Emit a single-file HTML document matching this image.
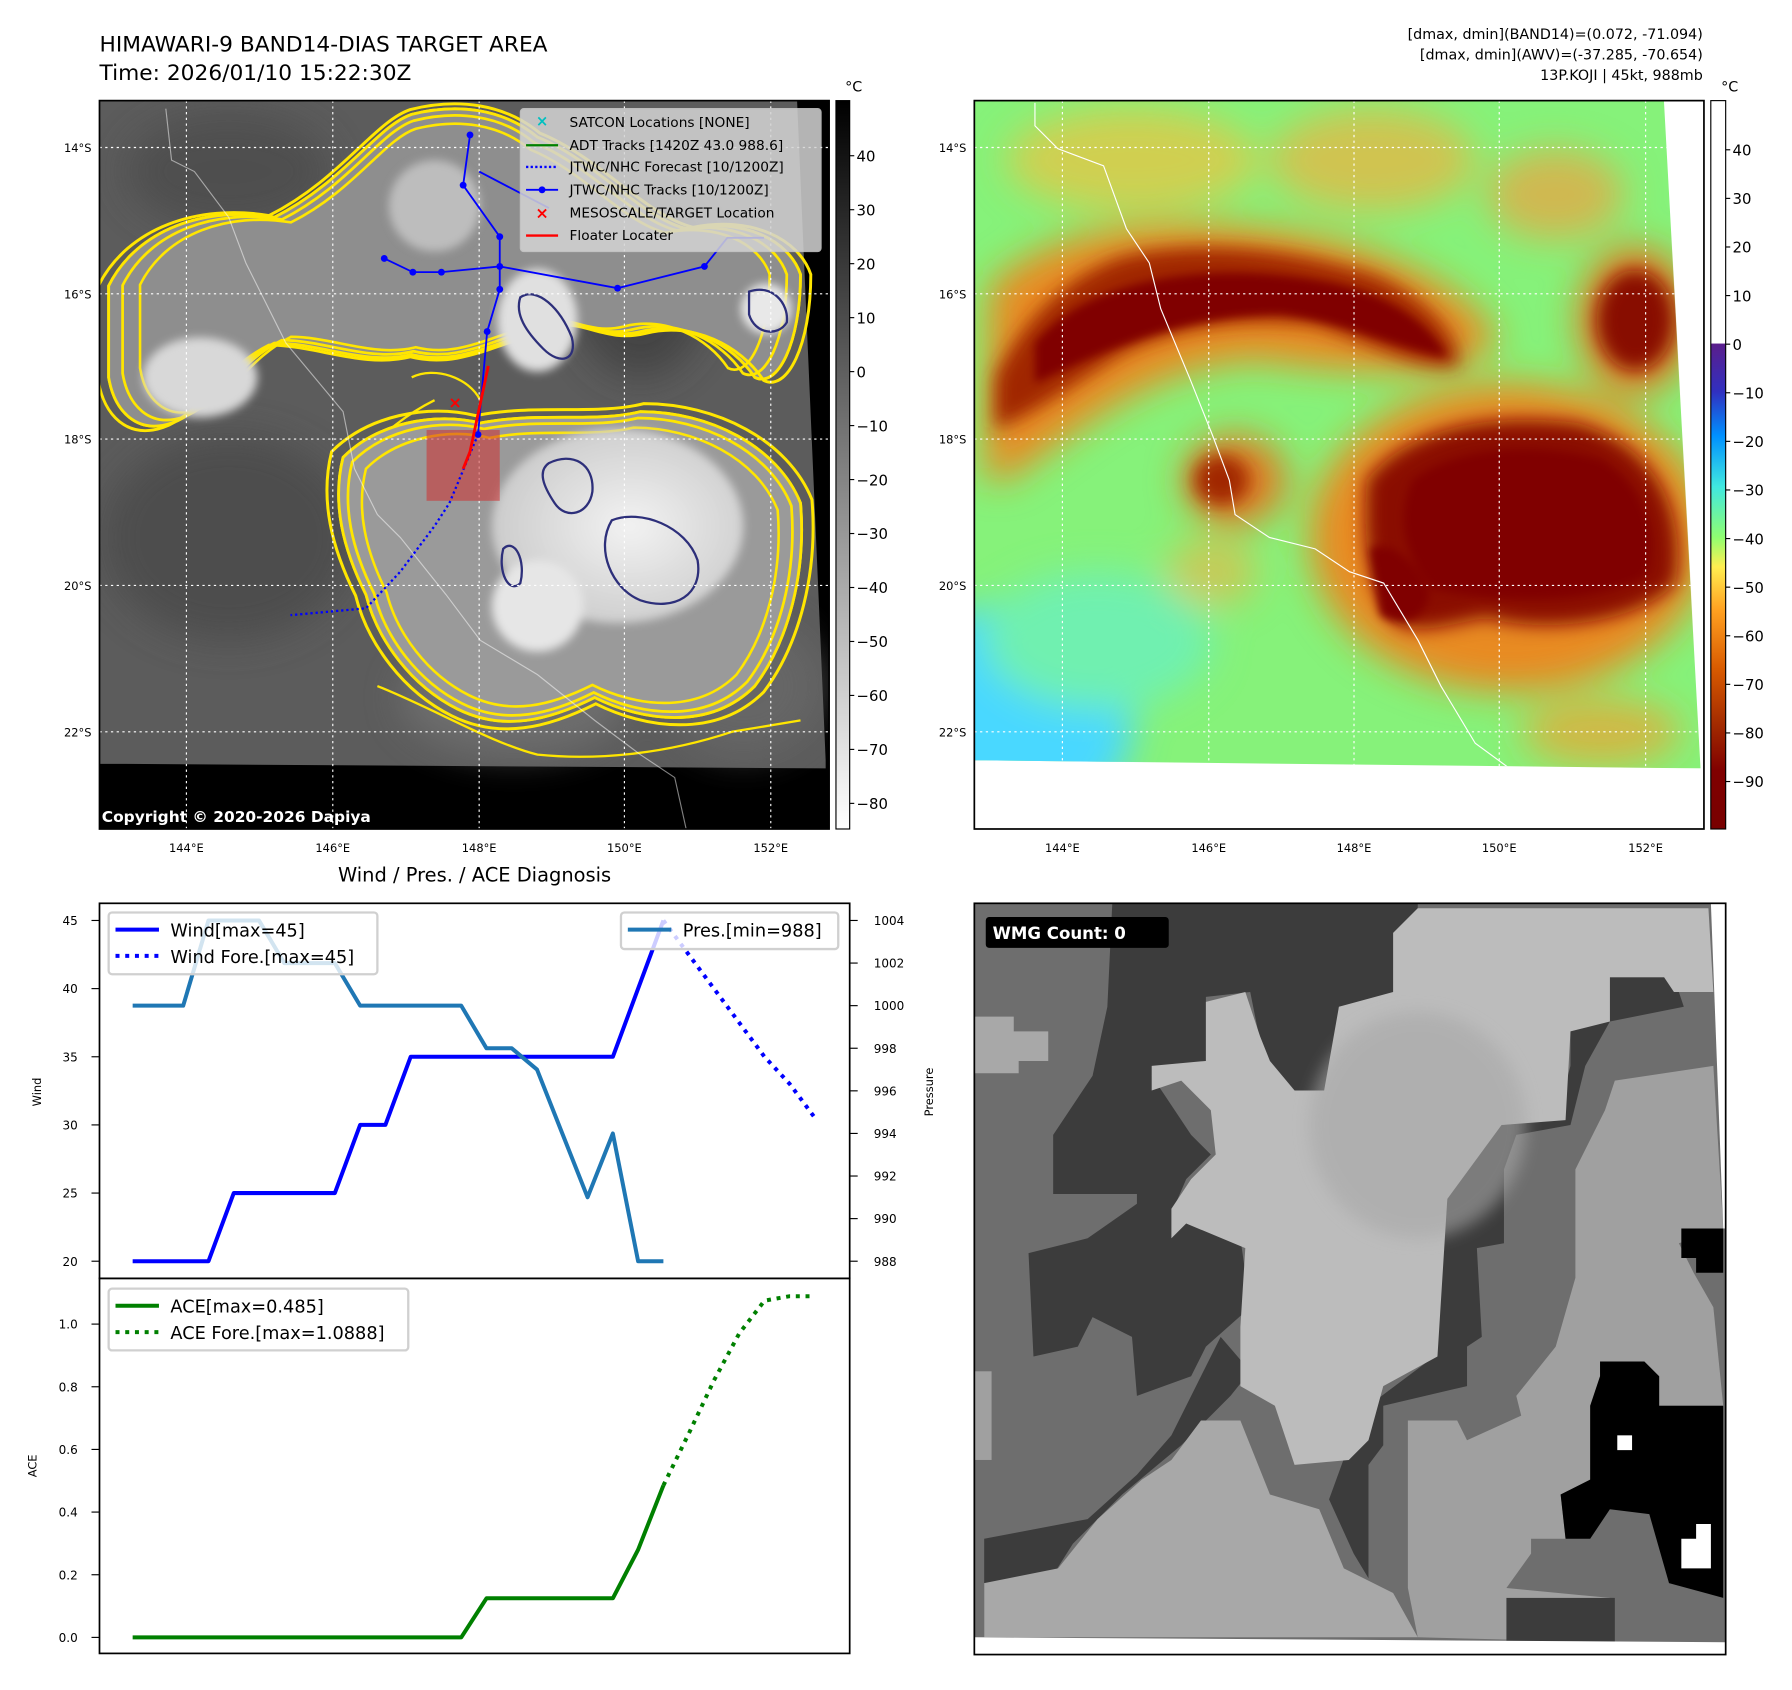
<!DOCTYPE html>
<html><head><meta charset="utf-8"><style>
html,body{margin:0;padding:0;background:#fff;}
svg{display:block;font-family:"DejaVu Sans","Liberation Sans",sans-serif;}
</style></head><body>
<svg id="root" xmlns="http://www.w3.org/2000/svg" width="1792" height="1690" viewBox="0 0 1567 1478" preserveAspectRatio="none">
<defs>
<filter id="b4" x="-20%" y="-20%" width="140%" height="140%"><feGaussianBlur stdDeviation="4"/></filter>
<filter id="b10" x="-30%" y="-30%" width="160%" height="160%"><feGaussianBlur stdDeviation="8"/></filter>
<filter id="b20" x="-50%" y="-50%" width="200%" height="200%"><feGaussianBlur stdDeviation="16"/></filter>
<clipPath id="clipL"><rect x="87" y="88" width="638" height="637"/></clipPath>
<clipPath id="clipR"><polygon points="852,88 1455,88 1487,672 862,665 852,665"/></clipPath>
<linearGradient id="cbGray" x1="0" y1="0" x2="0" y2="1"><stop offset="0" stop-color="#000"/><stop offset="1" stop-color="#fff"/></linearGradient>
<linearGradient id="cbJet" x1="0" y1="0" x2="0" y2="1">
<stop offset="0" stop-color="#fff"/><stop offset="0.333" stop-color="#fff"/>
<stop offset="0.334" stop-color="#5a1e8c"/><stop offset="0.40" stop-color="#3030c0"/><stop offset="0.46" stop-color="#0090ff"/>
<stop offset="0.53" stop-color="#40e8e0"/><stop offset="0.60" stop-color="#90ff70"/><stop offset="0.64" stop-color="#ffee50"/>
<stop offset="0.70" stop-color="#ffa020"/><stop offset="0.78" stop-color="#d85a00"/><stop offset="0.86" stop-color="#a02800"/>
<stop offset="0.92" stop-color="#800000"/><stop offset="1" stop-color="#780000"/></linearGradient>
<radialGradient id="cloudG" cx="0.55" cy="0.5" r="0.6"><stop offset="0" stop-color="#f2f2f2"/><stop offset="1" stop-color="#c8c8c8"/></radialGradient>
</defs>

<text x="87" y="45" font-size="19">HIMAWARI-9 BAND14-DIAS TARGET AREA</text>
<text x="87" y="70" font-size="19">Time: 2026/01/10 15:22:30Z</text>
<g font-size="12.5" text-anchor="end">
<text x="1489" y="34">[dmax, dmin](BAND14)=(0.072, -71.094)</text>
<text x="1489" y="52">[dmax, dmin](AWV)=(-37.285, -70.654)</text>
<text x="1489" y="70">13P.KOJI | 45kt, 988mb</text>
</g>

<!-- LEFT MAP -->
<g clip-path="url(#clipL)">
<rect x="87" y="88" width="638" height="637" fill="#000"/>
<polygon points="87,88 697,88 722,665 722,672 97,668 87,668" fill="#5c5c5c"/>
<g filter="url(#b20)" opacity="0.7">
<ellipse cx="200" cy="470" rx="110" ry="90" fill="#464646"/>
<ellipse cx="560" cy="250" rx="60" ry="80" fill="#3a3a3a"/>
<ellipse cx="200" cy="150" rx="90" ry="50" fill="#4a4a4a"/>
<ellipse cx="650" cy="600" rx="70" ry="60" fill="#6a6a6a"/>
<ellipse cx="450" cy="610" rx="100" ry="50" fill="#767676"/>
</g>
<g fill="none" stroke-linejoin="round">
<path id="c1" d="M95,250 C120,200 180,180 240,190 C300,160 330,110 360,100 C400,90 440,95 470,120 C520,140 560,190 600,200 C650,190 690,210 700,240 C700,300 680,340 660,330 C640,300 600,280 560,290 C520,300 500,270 470,290 C430,300 400,320 360,310 C320,320 280,300 240,300 C200,320 180,360 150,370 C120,380 100,360 95,330 Z" stroke="#ffe600" stroke-width="2.5"/>
<path id="c2" d="M300,400 C330,370 380,360 420,370 C470,360 520,370 560,360 C620,360 680,390 700,440 C705,500 690,560 660,600 C620,640 560,630 520,610 C480,630 440,640 400,620 C360,600 330,560 320,520 C300,480 290,440 300,400 Z" stroke="#ffe600" stroke-width="2.5"/>
<path d="M330,600 C380,620 430,650 470,660 C520,665 580,660 640,640 L700,630" stroke="#ffe600" stroke-width="2"/>
<path d="M360,330 C380,320 410,330 420,350 M380,350 C360,360 330,380 320,400" stroke="#ffe600" stroke-width="2"/>
</g>
<use href="#c1" fill="#8e8e8e"/>
<use href="#c2" fill="#9a9a9a"/>
<g fill="none" stroke-width="1.6">
<use href="#c1" stroke="#8cd050" transform="translate(400,240) scale(0.96) translate(-400,-240)"/>
<use href="#c2" stroke="#8cd050" transform="translate(500,500) scale(0.96) translate(-500,-500)"/>
<use href="#c1" stroke="#30a888" transform="translate(400,240) scale(0.91) translate(-400,-240)"/>
<use href="#c2" stroke="#30a888" transform="translate(500,500) scale(0.9) translate(-500,-500)"/>
<use href="#c2" stroke="#ffe600" transform="translate(500,500) scale(1.05) translate(-500,-500)"/>
<use href="#c1" stroke="#ffe600" transform="translate(400,240) scale(1.03) translate(-400,-240)"/>
</g>
<g filter="url(#b4)">
<ellipse cx="540" cy="460" rx="110" ry="85" fill="url(#cloudG)"/>
<ellipse cx="470" cy="530" rx="40" ry="40" fill="#e6e6e6"/>
<ellipse cx="470" cy="280" rx="35" ry="45" fill="#e0e0e0"/>
<ellipse cx="175" cy="330" rx="50" ry="35" fill="#d8d8d8"/>
<ellipse cx="670" cy="270" rx="22" ry="22" fill="#e8e8e8"/>
<ellipse cx="380" cy="180" rx="40" ry="40" fill="#bdbdbd"/>
</g>
<g fill="none" stroke="#2d2f7a" stroke-width="2">
<path d="M480,405 C500,395 520,405 518,430 C515,450 495,455 485,440 C475,425 470,412 480,405 Z"/>
<path d="M535,455 C560,445 600,460 610,490 C615,520 590,535 560,525 C535,515 520,480 535,455 Z"/>
<path d="M455,260 C470,250 490,270 500,295 C505,315 490,320 475,305 C460,290 450,275 455,260 Z"/>
<path d="M655,255 C675,248 690,265 688,282 C680,295 660,292 655,275 Z"/>
<path d="M440,480 C450,470 460,490 455,510 C445,520 435,500 440,480 Z"/>
</g>
<g stroke="#fff" stroke-width="1" stroke-dasharray="2,3">
<line x1="163" y1="88" x2="163" y2="725"/><line x1="291" y1="88" x2="291" y2="725"/><line x1="419" y1="88" x2="419" y2="725"/><line x1="546" y1="88" x2="546" y2="725"/><line x1="674" y1="88" x2="674" y2="725"/>
<line x1="87" y1="129" x2="725" y2="129"/><line x1="87" y1="257" x2="725" y2="257"/><line x1="87" y1="384" x2="725" y2="384"/><line x1="87" y1="512" x2="725" y2="512"/><line x1="87" y1="640" x2="725" y2="640"/>
</g>
<path d="M145,95 L150,140 L170,150 L200,190 L215,230 L250,300 L300,360 L310,410 L330,450 L350,470 L390,520 L420,560 L470,590 L520,630 L560,660 L590,680 L600,725" fill="none" stroke="#fff" stroke-width="1" opacity="0.5"/>
<rect x="373" y="376" width="64" height="62" fill="#d03030" opacity="0.55"/>
<g fill="none" stroke="#0000ff" stroke-width="1.6">
<polyline points="411,118 405,162 437,207 437,233 437,253 426,290 418,380"/>
<polyline points="336,226 361,238 386,238 437,233 540,252 616,233 636,208 668,208"/>
<polyline points="419,150 480,182"/>
</g>
<g fill="#0000ff"><circle cx="411" cy="118" r="3"/><circle cx="405" cy="162" r="3"/><circle cx="437" cy="207" r="3"/><circle cx="437" cy="233" r="3"/><circle cx="437" cy="253" r="3"/><circle cx="426" cy="290" r="3"/><circle cx="418" cy="380" r="3"/><circle cx="336" cy="226" r="3"/><circle cx="361" cy="238" r="3"/><circle cx="386" cy="238" r="3"/><circle cx="540" cy="252" r="3"/><circle cx="616" cy="233" r="3"/></g>
<polyline points="418,380 393,440 380,460 350,500 320,532 254,538" fill="none" stroke="#0000ff" stroke-width="2" stroke-dasharray="2,2.5"/>
<polyline points="427,320 411,395 405,410" fill="none" stroke="#ff0000" stroke-width="2.5"/>
<text x="398" y="357" font-size="14" font-weight="bold" fill="#ff0000" text-anchor="middle">×</text>
<g>
<rect x="455" y="95" width="263" height="125" rx="3" fill="#d4d4d4" opacity="0.85" stroke="#ccc"/>
<g font-size="12" fill="#000">
<text x="474" y="110" font-size="13" fill="#00c0c0" text-anchor="middle" font-weight="bold">×</text><text x="498" y="111">SATCON Locations [NONE]</text>
<line x1="460" y1="127" x2="488" y2="127" stroke="#008000" stroke-width="2"/><text x="498" y="131">ADT Tracks [1420Z 43.0 988.6]</text>
<line x1="460" y1="146" x2="488" y2="146" stroke="#0000ff" stroke-width="2" stroke-dasharray="2,2"/><text x="498" y="150">JTWC/NHC Forecast [10/1200Z]</text>
<line x1="460" y1="166" x2="488" y2="166" stroke="#0000ff" stroke-width="1.6"/><circle cx="474" cy="166" r="3" fill="#0000ff"/><text x="498" y="170">JTWC/NHC Tracks [10/1200Z]</text>
<text x="474" y="191" font-size="14" fill="#ff0000" text-anchor="middle" font-weight="bold">×</text><text x="498" y="190">MESOSCALE/TARGET Location</text>
<line x1="460" y1="206" x2="488" y2="206" stroke="#ff0000" stroke-width="2"/><text x="498" y="210">Floater Locater</text>
</g></g>
<text x="89" y="719" font-size="13.5" font-weight="bold" fill="#fff">Copyright © 2020-2026 Dapiya</text>
</g>
<rect x="87" y="88" width="638" height="637" fill="none" stroke="#000" stroke-width="1.5"/>

<!-- RIGHT MAP -->
<rect x="852" y="88" width="638" height="637" fill="#fff"/>
<g clip-path="url(#clipR)">
<rect x="852" y="88" width="640" height="600" fill="#86f27a"/>
<g filter="url(#b20)">
<ellipse cx="880" cy="630" rx="110" ry="100" fill="#48d8ff"/>
<ellipse cx="960" cy="560" rx="100" ry="60" fill="#70f0b0"/>
<ellipse cx="990" cy="140" rx="110" ry="45" fill="#f0c040" opacity="0.7"/>
<ellipse cx="1200" cy="140" rx="90" ry="45" fill="#f0b040" opacity="0.7"/>
<ellipse cx="1360" cy="170" rx="60" ry="40" fill="#f0a040" opacity="0.7"/>
<ellipse cx="1060" cy="500" rx="40" ry="30" fill="#f0b040" opacity="0.6"/>
<path d="M865,250 C920,200 1000,190 1100,200 C1200,210 1290,250 1310,300 C1280,330 1200,330 1100,315 C1000,320 940,380 880,420 L860,420 Z" fill="#e88a20"/>
<ellipse cx="1320" cy="470" rx="175" ry="135" fill="#e88a20"/>
<ellipse cx="1080" cy="420" rx="45" ry="40" fill="#e07a20"/>
<ellipse cx="1430" cy="280" rx="50" ry="65" fill="#e07a20"/>
<ellipse cx="1400" cy="640" rx="70" ry="30" fill="#f0a030" opacity="0.7"/>
</g>
<g filter="url(#b10)">
<path d="M870,330 C900,270 940,240 980,225 C1040,210 1120,215 1200,240 C1250,260 1280,300 1275,320 C1240,325 1200,300 1150,285 C1080,275 1020,290 980,310 C940,335 900,365 870,375 Z" fill="#a02800"/>
<path d="M1195,420 C1230,375 1300,360 1380,370 C1450,390 1475,450 1465,510 C1435,545 1350,555 1300,540 C1260,548 1240,555 1220,545 C1195,515 1192,470 1195,420 Z" fill="#8a0a00"/>
<ellipse cx="1430" cy="280" rx="34" ry="44" fill="#880800"/>
<ellipse cx="1068" cy="420" rx="24" ry="22" fill="#a02800"/>
</g>
<g filter="url(#b4)">
<path d="M905,300 C950,245 1050,228 1150,245 C1220,255 1255,290 1265,312 C1220,305 1180,282 1120,275 C1040,275 980,300 905,335 Z" fill="#800000"/>
<path d="M1235,420 C1270,392 1340,385 1400,402 C1445,430 1450,478 1438,505 C1380,532 1300,525 1252,515 C1225,480 1222,450 1235,420 Z" fill="#800000"/>
<path d="M1198,480 C1212,470 1240,490 1250,520 C1245,545 1222,548 1207,538 Z" fill="#800000"/>
</g>
<g stroke="#fff" stroke-width="1" stroke-dasharray="2,3">
<line x1="929" y1="88" x2="929" y2="725"/><line x1="1057" y1="88" x2="1057" y2="725"/><line x1="1184" y1="88" x2="1184" y2="725"/><line x1="1311" y1="88" x2="1311" y2="725"/><line x1="1439" y1="88" x2="1439" y2="725"/>
<line x1="852" y1="129" x2="1490" y2="129"/><line x1="852" y1="257" x2="1490" y2="257"/><line x1="852" y1="384" x2="1490" y2="384"/><line x1="852" y1="512" x2="1490" y2="512"/><line x1="852" y1="640" x2="1490" y2="640"/>
</g>
<path d="M905,90 L905,110 L925,130 L965,145 L985,200 L1005,230 L1015,270 L1040,330 L1060,380 L1075,420 L1080,450 L1110,470 L1150,480 L1180,500 L1210,510 L1240,560 L1260,600 L1290,650 L1320,672" fill="none" stroke="#fff" stroke-width="1"/>
</g>
<rect x="852" y="88" width="638" height="637" fill="none" stroke="#000" stroke-width="1.5"/>

<g font-size="10" fill="#000">
<g text-anchor="end"><text x="80" y="133">14°S</text><text x="80" y="261">16°S</text><text x="80" y="388">18°S</text><text x="80" y="516">20°S</text><text x="80" y="644">22°S</text>
<text x="845" y="133">14°S</text><text x="845" y="261">16°S</text><text x="845" y="388">18°S</text><text x="845" y="516">20°S</text><text x="845" y="644">22°S</text></g>
<g text-anchor="middle"><text x="163" y="745">144°E</text><text x="291" y="745">146°E</text><text x="419" y="745">148°E</text><text x="546" y="745">150°E</text><text x="674" y="745">152°E</text>
<text x="929" y="745">144°E</text><text x="1057" y="745">146°E</text><text x="1184" y="745">148°E</text><text x="1311" y="745">150°E</text><text x="1439" y="745">152°E</text></g>
</g>

<g>
<rect x="731" y="88" width="12" height="637" fill="url(#cbGray)" stroke="#000" stroke-width="1"/>
<text x="739" y="80" font-size="12.5">°C</text>
<g font-size="13" id="cb1t"></g>
</g>
<g>
<rect x="1496" y="88" width="13" height="637" fill="url(#cbJet)" stroke="#000" stroke-width="1"/>
<text x="1505" y="80" font-size="12.5">°C</text>
<g font-size="13" id="cb2t"></g>
</g>

<text x="415" y="771" font-size="17" text-anchor="middle">Wind / Pres. / ACE Diagnosis</text>
<g id="chart"></g>

<g>
<svg x="852" y="790" width="657" height="657" viewBox="0 0 1525 1525" preserveAspectRatio="none">
<rect width="1525" height="1525" fill="#6e6e6e"/>
<polygon fill="#3c3c3c" points="280,0 900,0 900,180 740,210 720,380 600,380 560,180 470,190 470,320 360,350 440,470 480,510 430,560 400,630 540,680 560,820 470,900 440,960 330,1000 320,880 240,840 210,900 120,920 110,710 230,680 330,610 330,590 160,590 160,470 240,350 270,210"/>
<polygon fill="#3c3c3c" points="500,880 560,950 520,1000 420,1100 300,1200 200,1300 80,1490 20,1490 20,1290 230,1250 330,1160 400,1080 450,980"/>
<polygon fill="#3c3c3c" points="1210,240 1290,240 1240,330 1210,450 1100,470 1075,540 1075,690 1020,700 1030,880 1000,900 1000,980 830,1020 830,1100 800,1140 800,1370 770,1320 720,1210 760,1100 800,1020 920,930 960,600 1070,450 1180,440 1210,330"/>
<polygon fill="#3c3c3c" points="1290,150 1420,150 1440,210 1290,240"/>
<polygon fill="#bcbcbc" points="850,60 900,10 1490,10 1500,180 1420,180 1400,150 1290,150 1290,240 1210,260 1200,440 1070,450 960,600 940,920 830,980 800,1090 760,1130 650,1140 610,1020 540,980 540,860 550,700 430,650 400,680 400,620 440,560 490,510 480,420 420,360 360,380 360,330 470,320 470,200 550,180 580,270 600,320 650,380 710,380 740,210 850,180"/>
<ellipse cx="900" cy="450" rx="220" ry="230" fill="#a8a8a8" opacity="0.6" filter="url(#b20)"/>
<polygon fill="#a8a8a8" points="20,1380 170,1350 250,1250 340,1170 400,1130 460,1050 540,1050 600,1200 700,1230 750,1350 850,1400 900,1490 20,1490"/>
<polygon fill="#a0a0a0" points="1300,360 1500,330 1520,660 1430,690 1460,750 1500,820 1520,1020 1390,1020 1390,960 1270,960 1250,1020 1250,1170 1190,1200 1200,1290 1130,1290 1130,1320 1080,1390 1290,1410 1290,1500 900,1490 880,1390 880,1050 980,1050 1000,1090 1110,1040 1100,1000 1180,900 1220,760 1220,540 1280,420"/>
<polygon fill="#000" points="1270,930 1360,930 1390,960 1390,1020 1520,1020 1520,1410 1410,1380 1370,1240 1290,1230 1250,1290 1200,1290 1190,1200 1250,1170 1250,1020 1270,960"/>
<polygon fill="#000" points="1435,660 1520,660 1520,750 1465,750 1465,720 1435,720"/>
<rect x="1305" y="1080" width="30" height="30" fill="#fff"/>
<polygon fill="#fff" points="1435,1290 1465,1290 1465,1260 1495,1260 1495,1350 1435,1350"/>
<rect x="1080" y="1410" width="220" height="90" fill="#3c3c3c"/>
<polygon fill="#a8a8a8" points="0,230 80,230 80,260 150,260 150,320 90,320 90,345 0,345"/>
<rect x="0" y="950" width="35" height="180" fill="#a0a0a0"/>
<polygon fill="#fff" points="0,1490 1525,1500 1525,1525 0,1525"/>
<polygon fill="#fff" points="1495,0 1525,0 1525,660 1520,660"/>
</svg>
<rect x="852" y="790" width="657" height="657" fill="none" stroke="#000" stroke-width="1.5"/>
<rect x="862" y="802" width="160" height="27" rx="3" fill="#000"/>
<text x="868" y="821" font-size="14.5" font-weight="bold" fill="#fff">WMG Count: 0</text>
</g>
</svg>

<script>
// ---- chart data ----
const timeIndex = [0,1,2,3,4,5,6,7,8,9,10,11,12,13,14,15,16,17,18,19,20,21];
const windObs = [20,20,20,20,25,25,25,25,25,30,30,35,35,35,35,35,35,35,35,35,40,45];
const presObs = [1000,1000,1000,1004,1004,1004,1002,1002,1002,1000,1000,1000,1000,1000,998,998,997,994,991,994,988,988];
const aceObs = [0,0,0,0,0,0,0,0,0,0,0,0,0,0,0.125,0.125,0.125,0.125,0.125,0.125,0.28,0.485];
const foreIndex = [21,22,23,24,25,26,27];
const windFore = [45,42.5,40,37.5,35,33,30.5];
const aceFore = [0.485,0.65,0.82,0.97,1.075,1.089,1.089];
const windTicks = [20,25,30,35,40,45];
const presTicks = [988,990,992,994,996,998,1000,1002,1004];
const aceTicks = [0.0,0.2,0.4,0.6,0.8,1.0];
const irTicks = [40,30,20,10,0,-10,-20,-30,-40,-50,-60,-70,-80];
const awvTicks = [40,30,20,10,0,-10,-20,-30,-40,-50,-60,-70,-80,-90];

const NS='http://www.w3.org/2000/svg';
function mk(tag, attrs, parent){const e=document.createElementNS(NS,tag);for(const k in attrs)e.setAttribute(k,attrs[k]);parent.appendChild(e);return e;}
const X = i => 116 + 22.1*i;
const Yw = w => 1103 - (w-20)*(298/25);
const Yp = p => 1103 - (p-988)*(298/16);
const Ya = a => 1432 - a*274;
const chart = document.getElementById('chart');

let f1 = mk('rect',{x:87,y:790,width:656,height:328,fill:'none',stroke:'#000','stroke-width':1.5},chart);


let f2 = mk('rect',{x:87,y:1118,width:656,height:328,fill:'none',stroke:'#000','stroke-width':1.5},chart);



windTicks.forEach(v=>{const y=Yw(v);mk('line',{x1:80,y1:y,x2:87,y2:y,stroke:'#000'},chart);
 const t=mk('text',{x:68,y:y+4,'font-size':10.5,'text-anchor':'end'},chart);t.textContent=v;
 
 });
presTicks.forEach(v=>{const y=Yp(v);mk('line',{x1:743,y1:y,x2:750,y2:y,stroke:'#000'},chart);
 const t=mk('text',{x:764,y:y+4,'font-size':10.5},chart);t.textContent=v;
 
 });
aceTicks.forEach(v=>{const y=Ya(v);mk('line',{x1:80,y1:y,x2:87,y2:y,stroke:'#000'},chart);
 const t=mk('text',{x:68,y:y+4,'font-size':10.5,'text-anchor':'end'},chart);t.textContent=v.toFixed(1);
 
 });
let yl1=mk('text',{x:0,y:0,'font-size':10,'text-anchor':'middle',transform:'translate(36,955) rotate(-90)'},chart);yl1.textContent='Wind';


let yl2=mk('text',{x:0,y:0,'font-size':10,'text-anchor':'middle',transform:'translate(816,955) rotate(-90)'},chart);yl2.textContent='Pressure';


let yl3=mk('text',{x:0,y:0,'font-size':10,'text-anchor':'middle',transform:'translate(32,1282) rotate(-90)'},chart);yl3.textContent='ACE';



function pts(ix, vals, fy){return ix.map((i,k)=>X(i).toFixed(1)+','+fy(vals[k]).toFixed(1)).join(' ');}
let l1=mk('polyline',{points:pts(timeIndex,windObs,Yw),fill:'none',stroke:'#0000ff','stroke-width':3.5,'stroke-linejoin':'round'},chart);


let l2=mk('polyline',{points:pts(foreIndex,windFore,Yw),fill:'none',stroke:'#0000ff','stroke-width':3.5,'stroke-dasharray':'3.5,5'},chart);


let l3=mk('polyline',{points:pts(timeIndex,presObs,Yp),fill:'none',stroke:'#1f77b4','stroke-width':3.5,'stroke-linejoin':'round'},chart);


let l4=mk('polyline',{points:pts(timeIndex,aceObs,Ya),fill:'none',stroke:'#008000','stroke-width':3.5,'stroke-linejoin':'round'},chart);


let l5=mk('polyline',{points:pts(foreIndex,aceFore,Ya),fill:'none',stroke:'#008000','stroke-width':3.5,'stroke-dasharray':'3.5,5'},chart);



function legend(x,y,w,h,items,name){const g=mk('g',{},chart);
 
 
 mk('rect',{x:x,y:y,width:w,height:h,rx:3,fill:'#fff','fill-opacity':0.8,stroke:'#d0d0d0','stroke-width':2},g);
 items.forEach((it,k)=>{const yy=y+15+k*23;
  const a={x1:x+6,y1:yy,x2:x+44,y2:yy,stroke:it[1],'stroke-width':3.5};if(it[2])a['stroke-dasharray']='3.5,5';mk('line',a,g);
  const t=mk('text',{x:x+54,y:yy+6,'font-size':15.5},g);t.textContent=it[0];});}
legend(95,798,235,54,[['Wind[max=45]','#0000ff',false],['Wind Fore.[max=45]','#0000ff',true]],'wind-legend');
legend(543,798,190,32,[['Pres.[min=988]','#1f77b4',false]],'pressure-legend');
legend(95,1127,262,54,[['ACE[max=0.485]','#008000',false],['ACE Fore.[max=1.0888]','#008000',true]],'ace-legend');

const cb1=document.getElementById('cb1t');
irTicks.forEach(v=>{const y=325-(v)*4.72;mk('line',{x1:743,y1:y,x2:747,y2:y,stroke:'#000'},cb1);
 const t=mk('text',{x:749,y:y+5},cb1);t.textContent=(v<0?'\u2212'+(-v):v);});
const cb2=document.getElementById('cb2t');
awvTicks.forEach(v=>{const y=301-(v)*4.25;mk('line',{x1:1509,y1:y,x2:1513,y2:y,stroke:'#000'},cb2);
 const t=mk('text',{x:1515,y:y+5},cb2);t.textContent=(v<0?'\u2212'+(-v):v);});
</script>
</body></html>
